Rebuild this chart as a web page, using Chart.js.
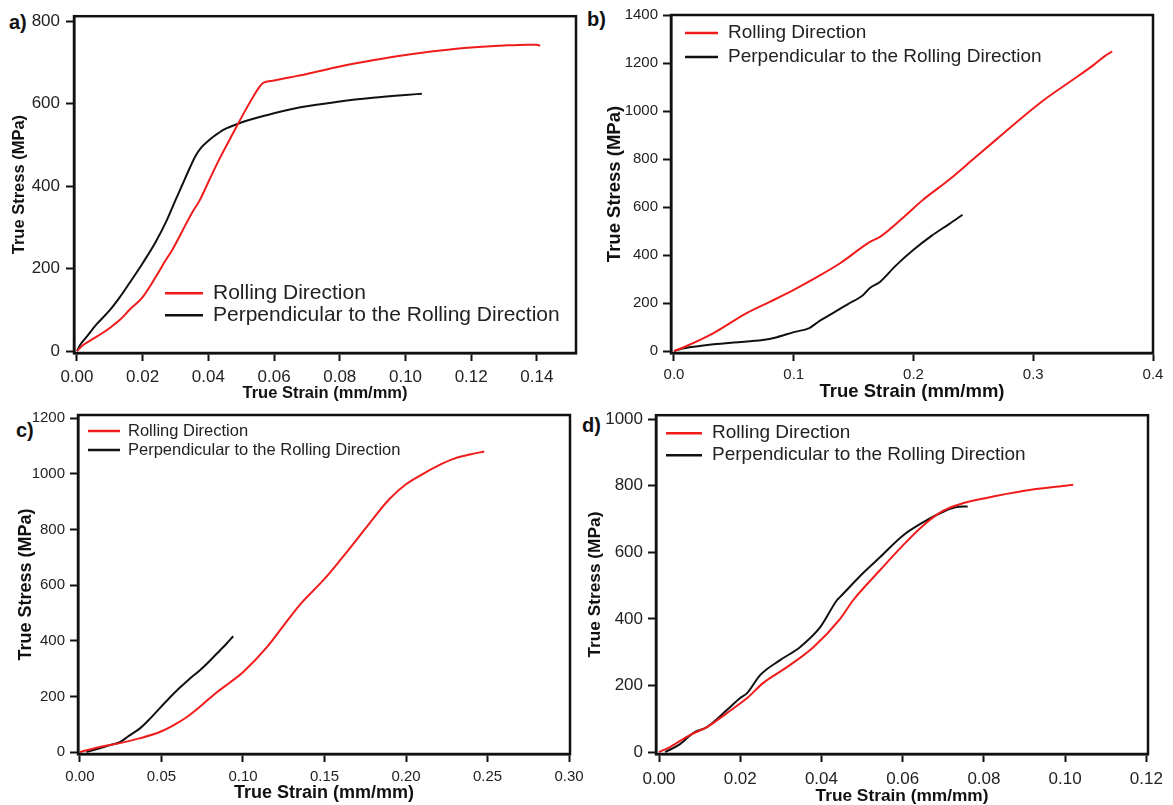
<!DOCTYPE html>
<html>
<head>
<meta charset="utf-8">
<script src="https://cdn.jsdelivr.net/npm/chart.js@4"></script>
<style>
  html, body { margin: 0; padding: 0; background: #fff; }
  body { width: 1173px; height: 805px; position: relative; overflow: hidden; font-family: "Liberation Sans", Arial, sans-serif; }
  canvas { position: absolute; }
  .tag { position: absolute; font-weight: bold; font-size: 20px; line-height: 20px; color: #111; }
</style>
</head>
<body>
<div class="tag" style="left:9px;top:12px">a)</div>
<div class="tag" style="left:587px;top:9px">b)</div>
<div class="tag" style="left:16px;top:420px">c)</div>
<div class="tag" style="left:582px;top:415px">d)</div>
<canvas id="chartA" width="590" height="405" style="left:0;top:0"></canvas>
<canvas id="chartB" width="583" height="405" style="left:590px;top:0"></canvas>
<canvas id="chartC" width="590" height="405" style="left:0;top:400px"></canvas>
<canvas id="chartD" width="593" height="405" style="left:580px;top:400px"></canvas>
<script>
// series labels
const seriesNames = ['Rolling Direction', 'Perpendicular to the Rolling Direction'];

// panel a
const aRollStrain = [0, 0.002, 0.005, 0.008, 0.010, 0.013, 0.016, 0.020, 0.024, 0.027, 0.029, 0.032, 0.035, 0.0374, 0.040, 0.043, 0.0475, 0.051, 0.0536, 0.0555, 0.0566, 0.060, 0.065, 0.070, 0.080, 0.090, 0.100, 0.110, 0.120, 0.130, 0.137, 0.140, 0.141];
const aRollStress = [0, 15, 30, 45, 56, 75, 100, 131, 180, 220, 245, 290, 335, 366, 410, 460, 528, 580, 616, 640, 650, 656, 664, 672, 690, 705, 718, 728, 736, 741, 743, 743, 740];
const aPerpStrain = [0, 0.001, 0.003, 0.006, 0.010, 0.013, 0.016, 0.020, 0.024, 0.0274, 0.030, 0.032, 0.0344, 0.036, 0.038, 0.040, 0.0414, 0.045, 0.0496, 0.0578, 0.068, 0.080, 0.090, 0.100, 0.105];
const aPerpStress = [0, 15, 35, 65, 99, 130, 165, 213, 265, 318, 366, 402, 445, 472, 495, 510, 519, 538, 553, 572, 591, 605, 614, 621, 624];
const aStrainTicks = ['0.00', '0.02', '0.04', '0.06', '0.08', '0.10', '0.12', '0.14'];
const aStressTicks = ['0', '200', '400', '600', '800'];

// panel b
const bRollStrain = [0, 0.01, 0.033, 0.061, 0.08, 0.10, 0.12, 0.139, 0.1636, 0.172, 0.19, 0.208, 0.23, 0.25, 0.27, 0.29, 0.31, 0.33, 0.35, 0.36, 0.366];
const bRollStress = [0, 20, 75, 159, 205, 255, 310, 367, 455, 476, 550, 630, 715, 800, 885, 970, 1050, 1120, 1190, 1230, 1248];
const bPerpStrain = [0, 0.005, 0.02, 0.033, 0.05, 0.074, 0.086, 0.10, 0.113, 0.12, 0.133, 0.145, 0.158, 0.1636, 0.172, 0.185, 0.2, 0.215, 0.23, 0.241];
const bPerpStress = [0, 8, 20, 28, 36, 46, 58, 79, 96, 120, 159, 195, 234, 263, 288, 355, 422, 480, 530, 568];
const bStrainTicks = ['0.0', '0.1', '0.2', '0.3', '0.4'];
const bStressTicks = ['0', '200', '400', '600', '800', '1000', '1200', '1400'];

// panel c
const cRollStrain = [0, 0.0123, 0.0245, 0.037, 0.049, 0.057, 0.0656, 0.075, 0.084, 0.092, 0.100, 0.1147, 0.125, 0.135, 0.15, 0.16, 0.17, 0.18, 0.19, 0.20, 0.21, 0.22, 0.23, 0.24, 0.248];
const cRollStress = [0, 18, 32, 50, 72, 95, 126, 170, 215, 250, 287, 377, 455, 530, 622, 692, 765, 840, 910, 962, 998, 1030, 1055, 1070, 1080];
const cPerpStrain = [0.004, 0.010, 0.0184, 0.0245, 0.030, 0.037, 0.043, 0.049, 0.055, 0.061, 0.067, 0.0736, 0.080, 0.086, 0.090, 0.094];
const cPerpStress = [0, 10, 25, 36, 58, 86, 120, 158, 195, 230, 262, 294, 330, 366, 390, 416];
const cStrainTicks = ['0.00', '0.05', '0.10', '0.15', '0.20', '0.25', '0.30'];
const cStressTicks = ['0', '200', '400', '600', '800', '1000', '1200'];

// panel d
const dRollStrain = [0, 0.0027, 0.0076, 0.0118, 0.0167, 0.0217, 0.0256, 0.0315, 0.038, 0.0446, 0.0478, 0.0544, 0.06, 0.065, 0.07, 0.075, 0.08, 0.09, 0.10, 0.102];
const dRollStress = [0, 15, 51, 75, 117, 162, 207, 255, 315, 400, 456, 546, 620, 680, 725, 748, 762, 785, 800, 803];
const dPerpStrain = [0.0015, 0.005, 0.0084, 0.0118, 0.0167, 0.02, 0.0217, 0.0249, 0.0298, 0.0347, 0.0397, 0.0438, 0.0446, 0.0502, 0.0544, 0.06, 0.065, 0.07, 0.073, 0.076];
const dPerpStress = [0, 22, 57, 75, 126, 162, 177, 231, 276, 315, 375, 456, 466, 537, 585, 650, 690, 722, 735, 738];
const dStrainTicks = ['0.00', '0.02', '0.04', '0.06', '0.08', '0.10', '0.12'];
const dStressTicks = ['0', '200', '400', '600', '800', '1000'];

const RED = '#f01c1c';
const INK = '#111';
const TEXT = '#222';
const FONT = '"Liberation Sans", Arial, sans-serif';

const toPoints = (xs, ys) => xs.map((x, i) => ({ x: x, y: ys[i] }));

// box frame + legend drawn inside the plot
const frameLegend = {
    id: 'frameLegend',
    afterDraw(chart, args, opts) {
        const { ctx, chartArea: a } = chart;
        ctx.save();
        ctx.lineWidth = 2.5;
        ctx.strokeStyle = INK;
        ctx.strokeRect(a.left, a.top, a.right - a.left, a.bottom - a.top);
        ctx.font = opts.size + 'px ' + FONT;
        ctx.textBaseline = 'middle';
        chart.data.datasets.forEach((ds, i) => {
            const x = a.left + opts.x;
            const y = a.top + opts.y + i * opts.row;
            ctx.strokeStyle = ds.borderColor;
            ctx.lineWidth = 2.5;
            ctx.beginPath();
            ctx.moveTo(x, y);
            ctx.lineTo(x + opts.len, y);
            ctx.stroke();
            ctx.fillStyle = TEXT;
            ctx.fillText(ds.label, x + opts.len + opts.gap, y);
        });
        ctx.restore();
    }
};

function axis(p) {
    const vals = p.ticks.map(Number);
    return {
        type: 'linear',
        min: p.min,
        max: p.max,
        afterBuildTicks: s => { s.ticks = vals.map(v => ({ value: v })); },
        afterFit: s => { if (p.width) s.width = p.width; if (p.height) s.height = p.height; },
        ticks: {
            autoSkip: false,
            maxRotation: 0,
            padding: p.tickPad,
            color: TEXT,
            font: { family: FONT, size: p.tickSize },
            callback: (v, i) => p.ticks[i]
        },
        grid: { drawOnChartArea: false, drawTicks: true, tickLength: 8, tickWidth: 2, tickColor: INK, color: INK },
        border: { display: true, color: INK, width: 2.5 },
        title: {
            display: true,
            text: p.title,
            color: INK,
            font: { family: FONT, size: p.titleSize, weight: 'bold', lineHeight: 1 },
            padding: p.titlePad
        }
    };
}

function makeChart(id, p) {
    const line = { borderWidth: 2, pointRadius: 0, cubicInterpolationMode: 'monotone' };
    return new Chart(document.getElementById(id), {
        type: 'line',
        data: {
            datasets: [
                Object.assign({ label: seriesNames[0], data: toPoints(p.rollX, p.rollY), borderColor: RED }, line),
                Object.assign({ label: seriesNames[1], data: toPoints(p.perpX, p.perpY), borderColor: INK }, line)
            ]
        },
        options: {
            responsive: false,
            devicePixelRatio: 1,
            animation: false,
            layout: { padding: p.pad },
            plugins: {
                legend: { display: false },
                tooltip: { enabled: false },
                frameLegend: p.legend
            },
            scales: {
                x: axis(p.x),
                y: axis(p.y)
            }
        },
        plugins: [frameLegend]
    });
}

makeChart('chartA', {
    rollX: aRollStrain, rollY: aRollStress, perpX: aPerpStrain, perpY: aPerpStress,
    pad: { left: 0, top: 16, right: 14, bottom: 0 },
    x: { min: -0.0009, max: 0.1519, ticks: aStrainTicks, height: 52, tickPad: 6, tickSize: 17,
         title: 'True Strain (mm/mm)', titleSize: 16.5, titlePad: { top: 0, bottom: 3.75 } },
    y: { min: -4.8, max: 812, ticks: aStressTicks, width: 74, tickPad: 6, tickSize: 17,
         title: 'True Stress (MPa)', titleSize: 16.5, titlePad: { top: 10.75, bottom: 0 } },
    legend: { x: 91, y: 277, row: 22, len: 38, gap: 10, size: 21 }
});

makeChart('chartB', {
    rollX: bRollStrain, rollY: bRollStress, perpX: bPerpStrain, perpY: bPerpStress,
    pad: { left: 0, top: 15, right: 20, bottom: 0 },
    x: { min: -0.0025, max: 0.4, ticks: bStrainTicks, height: 52, tickPad: 5, tickSize: 15,
         title: 'True Strain (mm/mm)', titleSize: 18.5, titlePad: { top: 0, bottom: 3.75 } },
    y: { min: -8, max: 1400, ticks: bStressTicks, width: 81, tickPad: 5, tickSize: 15,
         title: 'True Stress (MPa)', titleSize: 18.5, titlePad: { top: 15.75, bottom: 0 } },
    legend: { x: 14, y: 18, row: 24, len: 33, gap: 10, size: 19 }
});

makeChart('chartC', {
    rollX: cRollStrain, rollY: cRollStress, perpX: cPerpStrain, perpY: cPerpStress,
    pad: { left: 0, top: 15, right: 20, bottom: 0 },
    x: { min: -0.0012, max: 0.3006, ticks: cStrainTicks, height: 51, tickPad: 6, tickSize: 15,
         title: 'True Strain (mm/mm)', titleSize: 18, titlePad: { top: 0, bottom: 3 } },
    y: { min: -7, max: 1211, ticks: cStressTicks, width: 78, tickPad: 5, tickSize: 15,
         title: 'True Stress (MPa)', titleSize: 18, titlePad: { top: 17, bottom: 0 } },
    legend: { x: 10, y: 16, row: 19, len: 32, gap: 8, size: 16.5 }
});

makeChart('chartD', {
    rollX: dRollStrain, rollY: dRollStress, perpX: dPerpStrain, perpY: dPerpStress,
    pad: { left: 0, top: 15, right: 25, bottom: 0 },
    x: { min: -0.00074, max: 0.1204, ticks: dStrainTicks, height: 51, tickPad: 7, tickSize: 17,
         title: 'True Strain (mm/mm)', titleSize: 17.3, titlePad: { top: 0, bottom: 0.35 } },
    y: { min: -6, max: 1012, ticks: dStressTicks, width: 76, tickPad: 5, tickSize: 17,
         title: 'True Stress (MPa)', titleSize: 17.3, titlePad: { top: 6.35, bottom: 0 } },
    legend: { x: 10, y: 18, row: 22, len: 36, gap: 10, size: 19 }
});
</script>
</body>
</html>
